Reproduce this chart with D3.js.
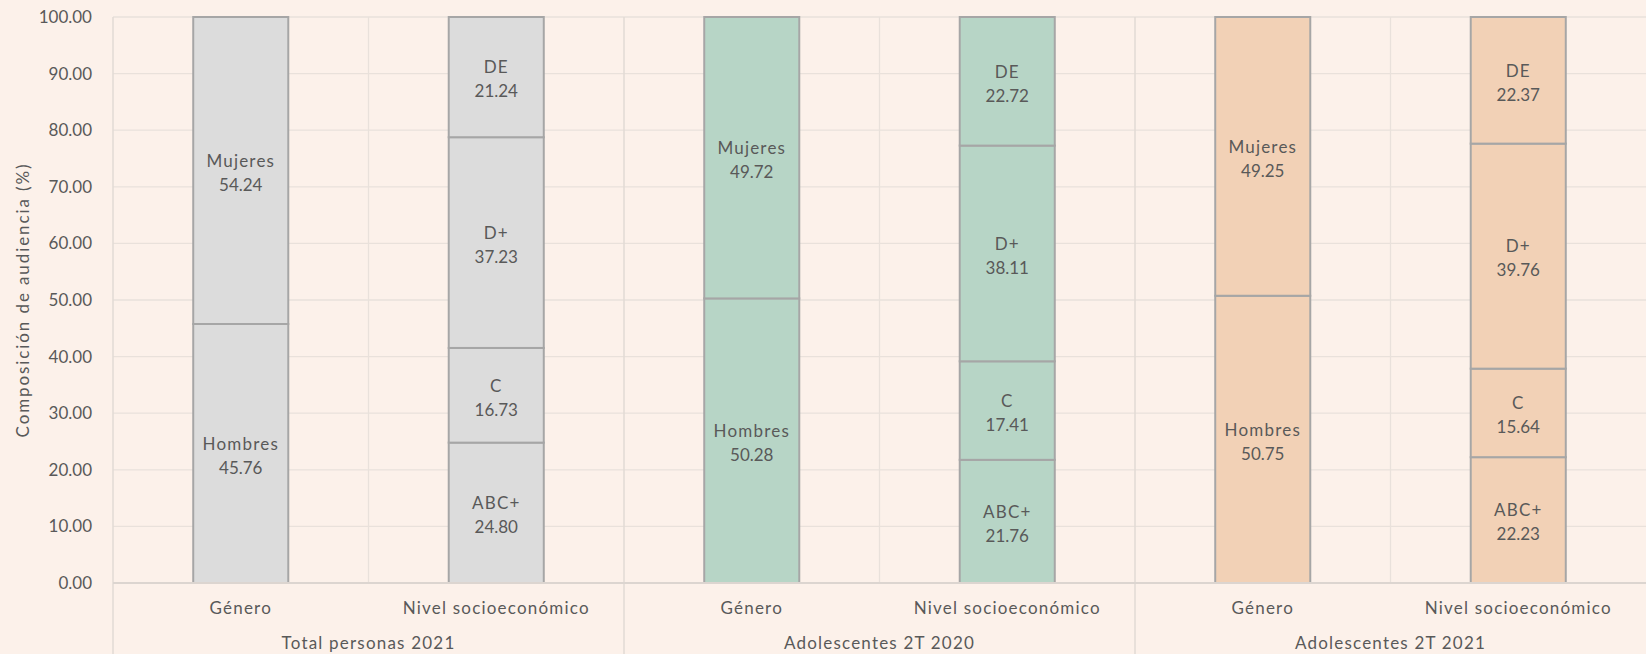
<!DOCTYPE html>
<html lang="es">
<head>
<meta charset="UTF-8">
<title>Composición de audiencia</title>
<script src="https://d3js.org/d3.v7.min.js"></script>
<style>
  html, body { margin: 0; padding: 0; background: #fcf1ea; }
  svg { display: block; font-family: "Century Gothic", "Lato", "DejaVu Sans", sans-serif; }
  .lbl { fill: #595959; font-size: 17px; }
  .word { letter-spacing: 1.2px; }
</style>
</head>
<body>
<svg id="chart" width="1646" height="654"></svg>
<script>
// --- Data ---
const groups = ["Total personas 2021", "Adolescentes 2T 2020", "Adolescentes 2T 2021"];
const categories = ["Género", "Nivel socioeconómico"];
const generoSegments = ["Hombres", "Mujeres"];
const nseSegments = ["ABC+", "C", "D+", "DE"];
const generoValues = [
  [45.76, 54.24],
  [50.28, 49.72],
  [50.75, 49.25]
];
const nseValues = [
  [24.80, 16.73, 37.23, 21.24],
  [21.76, 17.41, 38.11, 22.72],
  [22.23, 15.64, 39.76, 22.37]
];
const groupColors = ["#dcdcdc", "#b7d5c6", "#f2d1b6"];
const yTicks = [0, 10, 20, 30, 40, 50, 60, 70, 80, 90, 100];

// --- Layout ---
const W = 1646, H = 654;
const m = { top: 17, right: 0, bottom: 71, left: 113 };
const plotBottom = H - m.bottom;

const svg = d3.select("#chart");

const y = d3.scaleLinear().domain([0, 100]).range([plotBottom, m.top]);
const x0 = d3.scaleBand().domain(groups).range([m.left, W - m.right]).paddingInner(0);
const x1 = d3.scaleBand().domain(categories).range([0, x0.bandwidth()]);
const barW = x1.bandwidth() * 0.372;

// horizontal gridlines
svg.append("g").selectAll("line")
  .data(yTicks.filter(d => d > 0))
  .join("line")
  .attr("x1", m.left).attr("x2", W)
  .attr("y1", d => y(d)).attr("y2", d => y(d))
  .attr("stroke", "#e9e1db").attr("stroke-width", 1.3);

// vertical gridlines at category boundaries
const catBounds = [];
groups.forEach(g => categories.forEach((c, i) => { if (i > 0) catBounds.push(x0(g) + x1(c)); }));
svg.append("g").selectAll("line")
  .data(catBounds)
  .join("line")
  .attr("x1", d => d).attr("x2", d => d)
  .attr("y1", m.top).attr("y2", plotBottom)
  .attr("stroke", "#e9e1db").attr("stroke-width", 1.3);

// group dividers (extend into axis area)
const groupBounds = groups.map(g => x0(g));
svg.append("g").selectAll("line")
  .data(groupBounds)
  .join("line")
  .attr("x1", d => d).attr("x2", d => d)
  .attr("y1", m.top).attr("y2", H)
  .attr("stroke", "#e2dad4").attr("stroke-width", 1.5);

// y axis tick labels
svg.append("g").selectAll("text")
  .data(yTicks)
  .join("text")
  .attr("class", "lbl")
  .attr("x", m.left - 21)
  .attr("y", d => y(d))
  .attr("dy", "0.35em")
  .attr("text-anchor", "end")
  .text(d => d.toFixed(2));

// y axis title
svg.append("text")
  .attr("class", "lbl")
  .style("letter-spacing", "1.9px")
  .attr("transform", `translate(23,${(m.top + plotBottom) / 2}) rotate(-90)`)
  .attr("text-anchor", "middle")
  .attr("dy", "0.35em")
  .text("Composición de audiencia (%)");

// --- Bars ---
function stackSegments(names, vals) {
  let acc = 0;
  return names.map((n, i) => {
    const s = { name: n, value: vals[i], y0: acc, y1: acc + vals[i] };
    acc += vals[i];
    return s;
  });
}

groups.forEach((g, gi) => {
  const sets = [
    stackSegments(generoSegments, generoValues[gi]),
    stackSegments(nseSegments, nseValues[gi])
  ];
  categories.forEach((c, ci) => {
    const cx = x0(g) + x1(c) + x1.bandwidth() / 2;
    const bar = svg.append("g");
    bar.selectAll("rect")
      .data(sets[ci])
      .join("rect")
      .attr("x", cx - barW / 2)
      .attr("width", barW)
      .attr("y", d => y(d.y1))
      .attr("height", d => y(d.y0) - y(d.y1))
      .attr("fill", groupColors[gi])
      .attr("stroke", "#a6a6a6")
      .attr("stroke-width", 2);

    const t = bar.selectAll("text")
      .data(sets[ci])
      .join("text")
      .attr("class", "lbl")
      .attr("text-anchor", "middle")
      .attr("x", cx)
      .attr("y", d => y((d.y0 + d.y1) / 2));
    t.append("tspan").attr("class", "word").attr("x", cx).attr("dy", "-0.22em").text(d => d.name);
    t.append("tspan").attr("x", cx).attr("dy", "1.41em").text(d => d.value.toFixed(2));

    // category label
    svg.append("text")
      .attr("class", "lbl word")
      .attr("text-anchor", "middle")
      .attr("x", cx)
      .attr("y", 608)
      .attr("dy", "0.35em")
      .text(c);
  });

  // group label
  svg.append("text")
    .attr("class", "lbl word")
    .attr("text-anchor", "middle")
    .attr("x", x0(g) + x0.bandwidth() / 2)
    .attr("y", 643)
    .attr("dy", "0.35em")
    .text(g);
});

// baseline
svg.append("line")
  .attr("x1", m.left).attr("x2", W)
  .attr("y1", y(0)).attr("y2", y(0))
  .attr("stroke", "#dcd5d0").attr("stroke-width", 2);
</script>
</body>
</html>
